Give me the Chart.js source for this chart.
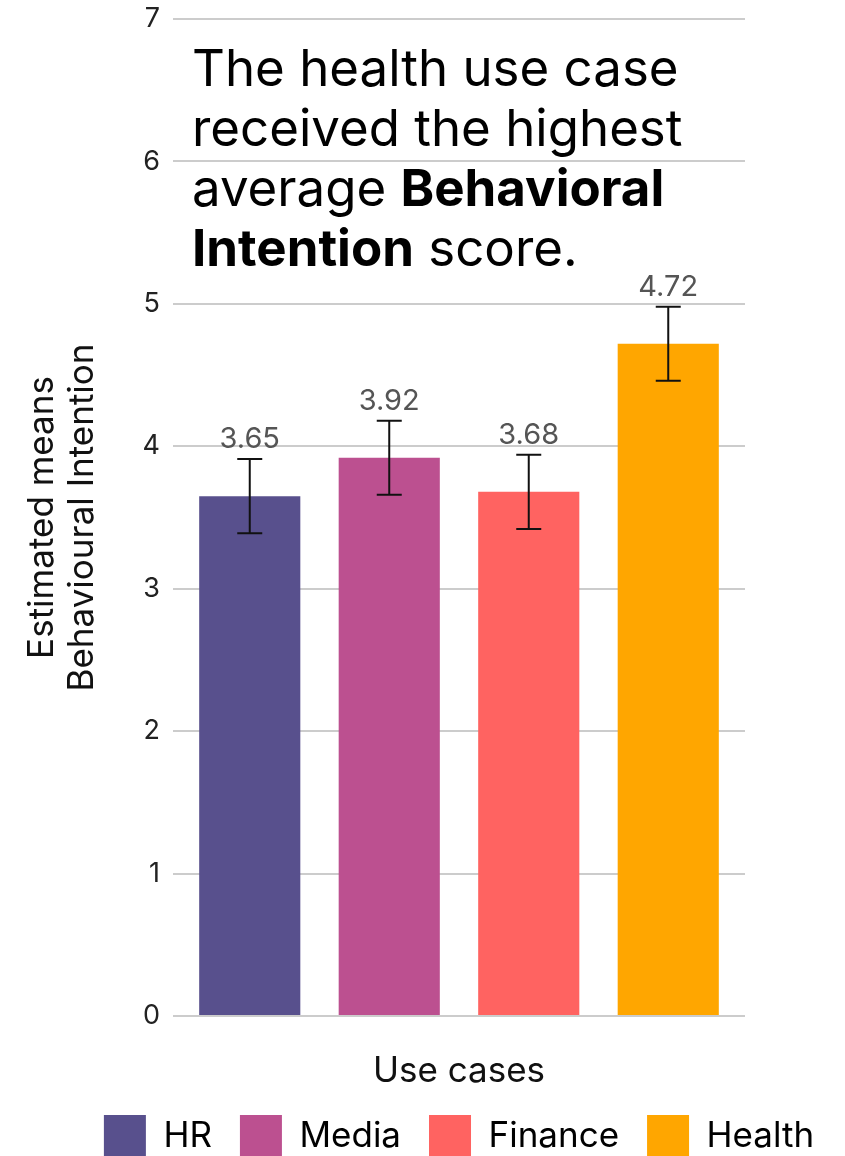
<!DOCTYPE html>
<html>
<head>
<meta charset="utf-8">
<script src="https://cdn.jsdelivr.net/npm/chart.js@4.4.1/dist/chart.umd.min.js"></script>
<style>
  html, body { margin: 0; padding: 0; background: #fff; overflow: hidden; }
  #wrap { width: 845px; height: 1156px; overflow: hidden; }
</style>
</head>
<body>
<div id="wrap"><canvas id="grafico" width="845" height="1167"></canvas></div>
<script>
// dados
const categorias = ["HR", "Media", "Finance", "Health"];
const medias = [3.65, 3.92, 3.68, 4.72];
const erroInferior = [3.39, 3.66, 3.42, 4.46];
const erroSuperior = [3.91, 4.18, 3.94, 4.98];
const cores = ["#58508d", "#bc5090", "#ff6361", "#ffa600"];
const eixoY = { min: 0, max: 7, passo: 1 };

const FONTE = "Inter, 'Noto Sans', sans-serif";
const GRADE = "#cccccc";

// barras de erro + rótulos
const pluginErros = {
    id: "erros",
    afterDatasetsDraw(chart) {
        const ctx = chart.ctx;
        const x = chart.scales.x;
        const y = chart.scales.y;
        ctx.save();
        categorias.forEach((_, i) => {
            const cx = x.getPixelForValue(i);
            const yTop = y.getPixelForValue(erroSuperior[i]);
            const yBot = y.getPixelForValue(erroInferior[i]);
            ctx.strokeStyle = "#111";
            ctx.lineWidth = 2;
            ctx.beginPath();
            ctx.moveTo(cx, yTop); ctx.lineTo(cx, yBot);
            ctx.moveTo(cx - 12.5, yTop); ctx.lineTo(cx + 12.5, yTop);
            ctx.moveTo(cx - 12.5, yBot); ctx.lineTo(cx + 12.5, yBot);
            ctx.stroke();

            ctx.fillStyle = "#555";
            ctx.font = "29px " + FONTE;
            ctx.textAlign = "center";
            ctx.textBaseline = "alphabetic";
            ctx.fillText(medias[i].toFixed(2), cx, yTop - 11);
        });
        ctx.restore();
    }
};

// texto de destaque dentro do gráfico
const pluginTexto = {
    id: "texto",
    afterDraw(chart) {
        const ctx = chart.ctx;
        const linhas = [
            [["The health use case", false]],
            [["received the highest", false]],
            [["average ", false], ["Behavioral", true]],
            [["Intention", true], [" score.", false]]
        ];
        ctx.save();
        ctx.fillStyle = "#000";
        ctx.textAlign = "left";
        ctx.textBaseline = "alphabetic";
        linhas.forEach((partes, l) => {
            let px = 192;
            const py = 86 + l * 60;
            partes.forEach(([txt, negrito]) => {
                ctx.font = (negrito ? "bold " : "") + "51px " + FONTE;
                ctx.fillText(txt, px, py);
                px += ctx.measureText(txt).width;
            });
        });
        ctx.restore();
    }
};

// legenda centrada sob a área do gráfico
const pluginLegenda = {
    id: "legendaCentro",
    afterLayout(chart) {
        const lg = chart.legend;
        const area = chart.chartArea;
        const delta = (area.left + area.right) / 2 - (lg.left + lg.right) / 2;
        lg.left += delta;
        lg.right += delta;
    }
};

const ctx = document.getElementById("grafico").getContext("2d");

new Chart(ctx, {
    type: "bar",
    data: {
        labels: categorias,
        datasets: [{
            data: medias,
            backgroundColor: cores,
            barPercentage: 0.725,
            categoryPercentage: 1
        }]
    },
    options: {
        responsive: false,
        animation: false,
        layout: { padding: { top: 19, right: 0, left: 0, bottom: 0 } },
        scales: {
            x: {
                ticks: { display: false },
                grid: { display: false },
                border: { display: false },
                title: {
                    display: true,
                    text: "Use cases",
                    color: "#111",
                    font: { family: FONTE, size: 35 },
                    padding: { top: 26, bottom: -5 }
                }
            },
            y: {
                min: eixoY.min,
                max: eixoY.max,
                ticks: {
                    stepSize: eixoY.passo,
                    color: "#222",
                    font: { family: FONTE, size: 27 },
                    padding: 13
                },
                grid: { color: GRADE, lineWidth: 2, drawTicks: true, tickLength: 7, tickColor: GRADE },
                border: { display: false },
                title: {
                    display: true,
                    text: ["Estimated means", "Behavioural Intention"],
                    color: "#111",
                    font: { family: FONTE, size: 35, lineHeight: 1.15 },
                    padding: { top: 22, bottom: 0 }
                },
                afterFit(scale) {
                    scale.width = 180;
                    scale.paddingTop = 0;
                    scale.paddingBottom = 0;
                }
            },
            y2: {
                position: "right",
                min: eixoY.min,
                max: eixoY.max,
                ticks: { stepSize: eixoY.passo, display: false },
                grid: { drawOnChartArea: false, drawTicks: true, tickLength: 7, tickColor: GRADE, lineWidth: 2, color: GRADE },
                border: { display: false },
                afterFit(scale) {
                    scale.width = 107;
                    scale.paddingTop = 0;
                    scale.paddingBottom = 0;
                }
            }
        },
        plugins: {
            legend: {
                display: true,
                position: "bottom",
                labels: {
                    boxWidth: 42,
                    boxHeight: 42,
                    padding: 28,
                    color: "#111",
                    font: { family: FONTE, size: 35 },
                    generateLabels() {
                        return categorias.map((c, i) => ({
                            text: c,
                            fillStyle: cores[i],
                            strokeStyle: cores[i],
                            lineWidth: 0,
                            hidden: false,
                            index: i
                        }));
                    }
                }
            },
            tooltip: { enabled: false }
        }
    },
    plugins: [pluginErros, pluginTexto, pluginLegenda]
});
</script>
</body>
</html>
